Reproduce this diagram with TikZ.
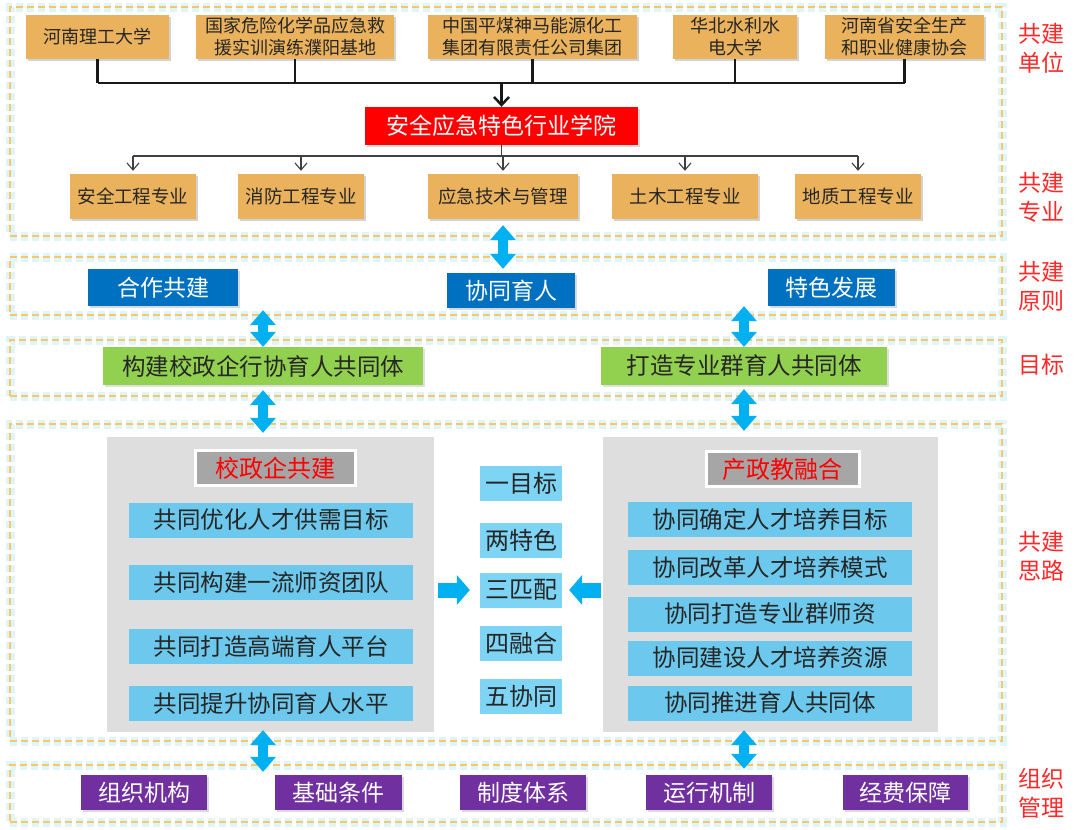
\documentclass[tikz,border=0pt]{standalone}
\usepackage{fontspec}
\setmainfont{Noto Sans CJK SC}
\usetikzlibrary{arrows.meta,positioning,shadows}

\definecolor{dworange}{RGB}{234,178,92}
\definecolor{xyred}{RGB}{255,0,0}
\definecolor{yzblue}{RGB}{0,112,192}
\definecolor{mbgreen}{RGB}{146,208,80}
\definecolor{slgray}{RGB}{222,222,222}
\definecolor{hdgray}{RGB}{166,166,166}
\definecolor{itblue}{RGB}{108,200,236}
\definecolor{mdblue}{RGB}{125,212,244}
\definecolor{arcyan}{RGB}{0,176,240}
\definecolor{glpurple}{RGB}{112,48,160}
\definecolor{frorange}{RGB}{250,198,104}
\definecolor{frglow}{RGB}{222,245,249}
\definecolor{lbred}{RGB}{255,40,40}

\begin{document}
\begin{tikzpicture}[x=1pt,y=-1pt,
  every node/.style={inner sep=0pt,align=center},
  frame/.style={draw=frorange,line width=1.8pt,dash pattern=on 7pt off 4pt,
    preaction={draw=frglow,line width=9pt},minimum width=992pt},
  dw/.style={fill=dworange,minimum height=44pt,text=black!85,
    font=\fontsize{18}{22}\selectfont,
    drop shadow={shadow xshift=2pt,shadow yshift=-2pt,opacity=0.35}},
  xy/.style={fill=xyred,text=white,minimum width=273pt,minimum height=38pt,
    font=\fontsize{23}{23}\selectfont,
    drop shadow={shadow xshift=2pt,shadow yshift=-2pt,opacity=0.3}},
  zy/.style={dw,minimum height=45pt,font=\fontsize{18.5}{22}\selectfont},
  yz/.style={fill=yzblue,text=white,minimum height=37pt,
    font=\fontsize{23}{23}\selectfont,
    drop shadow={shadow xshift=1.5pt,shadow yshift=-1.5pt,opacity=0.3}},
  mb/.style={fill=mbgreen,text=black!85,minimum height=38pt,
    font=\fontsize{23.5}{23}\selectfont,
    drop shadow={shadow xshift=1.5pt,shadow yshift=-1.5pt,opacity=0.25}},
  sl/.style={fill=slgray,minimum height=295pt},
  hd/.style={fill=hdgray,draw=white,line width=3pt,text=xyred,
    minimum height=35pt,font=\fontsize{24}{24}\selectfont},
  it/.style={fill=itblue,text=black!85,minimum width=284pt,minimum height=35pt,
    font=\fontsize{23.5}{24}\selectfont},
  md/.style={fill=mdblue,text=black!85,minimum width=82pt,minimum height=35pt,
    font=\fontsize{24}{24}\selectfont},
  gl/.style={fill=glpurple,text=white,minimum width=126pt,minimum height=35pt,
    font=\fontsize{23}{23}\selectfont,
    drop shadow={shadow xshift=2pt,shadow yshift=-2pt,opacity=0.3}},
  lb/.style={text=lbred,font=\fontsize{23}{29}\selectfont},
  trunk/.style={line width=2.5pt,black!90},
  twig/.style={line width=1.1pt,black!75,-{Straight Barb[length=7pt,width=12pt]}},
  dbl/.style={draw=arcyan,line width=10pt,
    {Triangle[width=26pt,length=15pt,line width=0pt]}-{Triangle[width=26pt,length=15pt,line width=0pt]}},
  blk/.style={draw=arcyan,line width=15pt,-{Triangle[width=30pt,length=13pt,line width=0pt]}}]

\useasboundingbox (0,0) rectangle (1080,830);

% Frames
\node[frame,minimum height=229pt] at (506,121.5) (fr1) {};
\node[frame,minimum height=58pt] at (506,286) (fr2) {};
\node[frame,minimum height=56pt] at (506,368) (fr3) {};
\node[frame,minimum height=317pt] at (506,582.5) (fr4) {};
\node[frame,minimum height=57pt] at (506,793.5) (fr5) {};

% Labels
\node[lb] at (1041,48) (lb1) {共建\\单位};
\node[lb] at (1041,197.5) (lb2) {共建\\专业};
\node[lb] at (1041,286) (lb3) {共建\\原则};
\node[lb] at (1041,365) (lb4) {目标};
\node[lb] at (1041,556) (lb5) {共建\\思路};
\node[lb] at (1041,793) (lb6) {组织\\管理};

% Units
\node[dw,minimum width=143pt] at (97.5,37) (dw1) {河南理工大学};
\node[dw,minimum width=198pt] at (295,37) (dw2) {国家危险化学品应急救\\援实训演练濮阳基地};
\node[dw,minimum width=209pt] at (532.5,37) (dw3) {中国平煤神马能源化工\\集团有限责任公司集团};
\node[dw,minimum width=124pt] at (735,37) (dw4) {华北水利水\\电大学};
\node[dw,minimum width=159pt] at (904.5,37) (dw5) {河南省安全生产\\和职业健康协会};
\node[xy] at (501.5,126) (xy) {安全应急特色行业学院};
\coordinate (hub) at (501.5,83);
\coordinate (fork) at (501.5,156);

% Majors
\node[zy,minimum width=126pt] at (133,196.5) (zy1) {安全工程专业};
\node[zy,minimum width=126pt] at (301,196.5) (zy2) {消防工程专业};
\node[zy,minimum width=150pt] at (503,196.5) (zy3) {应急技术与管理};
\node[zy,minimum width=146pt] at (685,196.5) (zy4) {土木工程专业};
\node[zy,minimum width=126pt] at (858,196.5) (zy5) {地质工程专业};

\foreach \i in {1,...,5}
  \draw[trunk] (dw\i.south) -- (dw\i.south |- hub);
\draw[trunk] (dw1.south |- hub) -- (dw5.south |- hub);
\draw[trunk,-{Straight Barb[length=8pt,width=15pt]}] (hub) -- (xy.north);
\draw[twig,-] (xy.south) -- (fork);
\draw[twig,-] (zy1.north |- fork) -- (zy5.north |- fork);
\foreach \i in {1,...,5}
  \draw[twig] (zy\i.north |- fork) -- ([yshift=3pt]zy\i.north);

% Principles
\node[yz,minimum width=150pt] at (163,287.5) (yz1) {合作共建};
\node[yz,minimum width=128pt,minimum height=35pt] at (511,290.5) (yz2) {协同育人};
\node[yz,minimum width=127pt] at (831.5,287.5) (yz3) {特色发展};

% Goals
\node[mb,minimum width=320pt] at (263,366) (mb1) {构建校政企行协育人共同体};
\node[mb,minimum width=286pt] at (744,366) (mb2) {打造专业群育人共同体};

% Ideas
\node[sl,minimum width=327pt] at (270.5,584.5) (sl1) {};
\node[sl,minimum width=335pt] at (770.5,584.5) (sl2) {};
\node[hd,minimum width=160pt] at (275,468) (hd1) {校政企共建};
\node[hd,minimum width=153pt] at (782.5,469) (hd2) {产政教融合};

\node[it] at (271,520) (li1) {共同优化人才供需目标};
\node[it] at (271,582.5) (li2) {共同构建一流师资团队};
\node[it] at (271,646.5) (li3) {共同打造高端育人平台};
\node[it] at (271,703.5) (li4) {共同提升协同育人水平};

\node[md] at (521,483.5) (md1) {一目标};
\node[md] at (521,540.5) (md2) {两特色};
\node[md] at (521,590) (md3) {三匹配};
\node[md] at (521,643.5) (md4) {四融合};
\node[md] at (521,696) (md5) {五协同};

\node[it] at (770,519.5) (ri1) {协同确定人才培养目标};
\node[it] at (770,567.5) (ri2) {协同改革人才培养模式};
\node[it] at (770,614) (ri3) {协同打造专业群师资};
\node[it] at (770,658) (ri4) {协同建设人才培养资源};
\node[it] at (770,703) (ri5) {协同推进育人共同体};

\draw[blk,shorten <=4pt,shorten >=10pt] (sl1.east |- md3) -- (md3.west);
\draw[blk,shorten <=2pt,shorten >=7pt] (sl2.west |- md3) -- (md3.east);

% Management
\node[gl] at (144,792.5) (gl1) {组织机构};
\node[gl,minimum width=127pt] at (338.5,792.5) (gl2) {基础条件};
\node[gl] at (523,792.5) (gl3) {制度体系};
\node[gl] at (709,792.5) (gl4) {运行机制};
\node[gl,minimum width=125pt] at (905.5,792.5) (gl5) {经费保障};

% Links
\draw[dbl,shorten <=6pt,shorten >=4pt] (zy3.south) -- (zy3.south |- yz2.north);
\draw[dbl,shorten <=4pt] (mb1.north |- yz1.south) -- (mb1.north);
\draw[dbl] (mb2.north |- yz3.south) -- (mb2.north);
\draw[dbl,shorten <=5pt,shorten >=4pt] (mb1.south) -- (mb1.south |- sl1.north);
\draw[dbl,shorten <=4pt,shorten >=6pt] (mb2.south) -- (mb2.south |- sl2.north);
\draw[dbl,shorten <=-2pt,shorten >=3pt] (mb1.south |- sl1.south) -- (mb1.south |- gl1.north);
\draw[dbl,shorten <=-2pt,shorten >=6pt] (mb2.south |- sl2.south) -- (mb2.south |- gl4.north);

\end{tikzpicture}
\end{document}
